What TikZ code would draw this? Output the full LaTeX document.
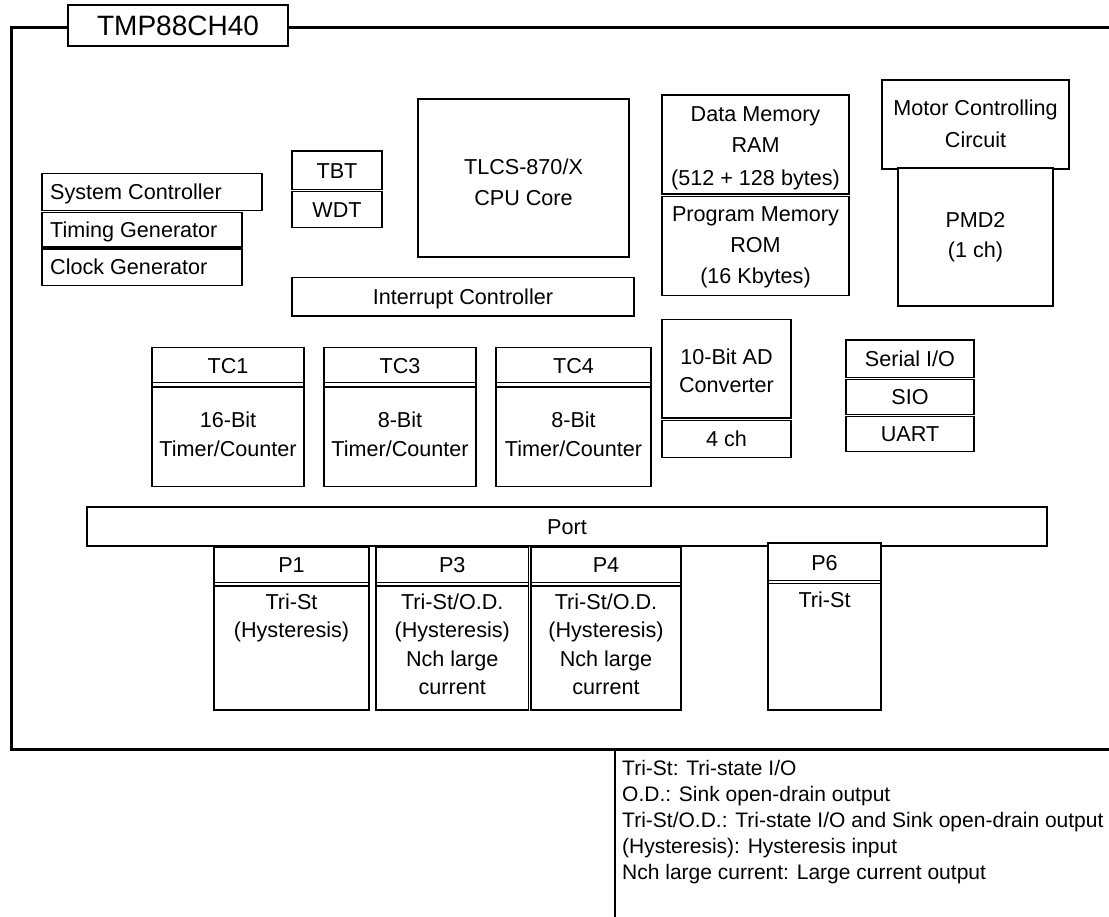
\documentclass[tikz,border=0pt]{standalone}
\usepackage{fontspec}
\setmainfont{Liberation Sans}
\newcommand\bodyfont{\fontsize{21.6}{25}\selectfont}
\newcommand\legfont{\fontsize{21}{25}\selectfont}
\newcommand\ttlfont{\fontsize{28}{32}\selectfont}
\tikzset{
  box/.style={draw, line width=1.3pt, fill=white, inner sep=0pt, outer sep=0pt,
    font=\bodyfont, text height=15.6pt, text depth=0pt},
  ttlbox/.style={box, font=\ttlfont, text height=20.3pt},
  txt/.style={inner sep=0pt, font=\bodyfont, anchor=base, yshift=-7.8pt},
  ltxt/.style={txt, anchor=base west},
  legtxt/.style={inner sep=0pt, font=\legfont, anchor=base west, yshift=-7.6pt},
  frame/.style={line width=3pt, line join=miter},
  thin/.style={line width=1.3pt},
}
\begin{document}
\begin{tikzpicture}[x=1pt,y=-1pt]
\useasboundingbox (0,0) rectangle (1109,917);

% outer frame
\node[ttlbox, minimum width=220pt, minimum height=41pt] (title) at (178,25.5) {TMP88CH40};
\coordinate (ftl) at (11,27.5);
\coordinate (fbl) at (11,749.5);
\coordinate (fbr) at (1109,749.5);
\coordinate (ftr) at (1109,27.5);
\draw[frame] (title.west |- ftl) -- (ftl) -- (fbl) -- (fbr);
\draw[frame] (title.east |- ftl) -- (ftr);

% system controller group
\node[box, minimum width=220pt, minimum height=37pt] (sys) at (152,192) {};
\node[ltxt] (syst) at (50,192) {System Controller};
\node[box, minimum width=200pt, minimum height=34.5pt] (tim) at (142,229.75) {};
\node[ltxt] (timt) at (50,229.5) {Timing Generator};
\node[box, minimum width=200pt, minimum height=36.5pt] (clk) at (142,267.25) {};
\node[ltxt] (clkt) at (50,266.5) {Clock Generator};

% TBT / WDT
\node[box, minimum width=90pt, minimum height=38.5pt] (tbt) at (337,170.25) {TBT};
\node[box, minimum width=90pt, minimum height=36pt] (wdt) at (337,209.5) {WDT};

% CPU core
\node[box, minimum width=211pt, minimum height=158pt] (cpu) at (523.5,178) {};
\node[txt] (cpu1) at (523.5,167) {TLCS-870/X};
\node[txt] (cpu2) at (523.5,198) {CPU Core};

% interrupt controller
\node[box, minimum width=342pt, minimum height=38.5pt] (intc) at (463,296.75) {Interrupt Controller};

% memories
\node[box, minimum width=187pt, minimum height=99pt] (ram) at (755.5,144.5) {};
\node[txt] (ram1) at (755.5,113.3) {Data Memory};
\node[txt] (ram2) at (755.5,145) {RAM};
\node[txt] (ram3) at (755.5,178) {(512 + 128 bytes)};
\node[box, minimum width=187pt, minimum height=99pt] (rom) at (755.5,246) {};
\node[txt] (rom1) at (755.5,213.3) {Program Memory};
\node[txt] (rom2) at (755.5,245) {ROM};
\node[txt] (rom3) at (755.5,276) {(16 Kbytes)};

% motor / PMD
\node[box, minimum width=187pt, minimum height=89pt] (mot) at (975.5,124.5) {};
\node[txt] (mot1) at (975.5,107.3) {Motor Controlling};
\node[txt] (mot2) at (975.5,139.3) {Circuit};
\node[box, minimum width=155pt, minimum height=138pt] (pmd) at (975.5,237) {};
\node[txt] (pmd1) at (975.5,220) {PMD2};
\node[txt] (pmd2) at (975.5,250) {(1 ch)};

% AD converter
\node[box, minimum width=129pt, minimum height=98.5pt] (ad) at (726.5,368.75) {};
\node[txt] (ad1) at (726.5,356.7) {10-Bit AD};
\node[txt] (ad2) at (726.5,385) {Converter};
\node[box, minimum width=129pt, minimum height=37pt] (adch) at (726.5,439) {4 ch};

% serial
\node[box, minimum width=128pt, minimum height=37.5pt] (ser) at (910,358.75) {Serial I/O};
\node[box, minimum width=128pt, minimum height=35pt] (sio) at (910,397) {SIO};
\node[box, minimum width=128pt, minimum height=35pt] (uart) at (910,434) {UART};

% timer counters
\node[box, minimum width=152pt, minimum height=139pt] (tc1) at (228,417) {};
\node[box, minimum width=152pt, minimum height=139pt] (tc3) at (400,417) {};
\node[box, minimum width=155pt, minimum height=139pt] (tc4) at (573.5,417) {};
\foreach \n in {tc1,tc3,tc4}{
  \draw[thin] (\n.west |- 0,382.5) -- (\n.east |- 0,382.5);
  \draw[thin] (\n.west |- 0,387) -- (\n.east |- 0,387);
}
\node[txt] (tc1h) at (228,365.5) {TC1};
\node[txt] (tc1a) at (228,420) {16-Bit};
\node[txt] (tc1b) at (228,448.3) {Timer/Counter};
\node[txt] (tc3h) at (400,365.5) {TC3};
\node[txt] (tc3a) at (400,420) {8-Bit};
\node[txt] (tc3b) at (400,448.3) {Timer/Counter};
\node[txt] (tc4h) at (573.5,365.5) {TC4};
\node[txt] (tc4a) at (573.5,420) {8-Bit};
\node[txt] (tc4b) at (573.5,448.3) {Timer/Counter};

% port
\node[box, minimum width=960pt, minimum height=39pt] (port) at (567,526.5) {Port};

\node[box, minimum width=155pt, minimum height=162.5pt] (p1) at (291.5,628.75) {};
\node[box, minimum width=152.5pt, minimum height=162.5pt] (p3) at (452.25,628.75) {};
\node[box, minimum width=150pt, minimum height=162.5pt] (p4) at (606,628.75) {};
\foreach \n in {p1,p3,p4}{
  \draw[thin] (\n.west |- 0,582.5) -- (\n.east |- 0,582.5);
  \draw[thin] (\n.west |- 0,586) -- (\n.east |- 0,586);
}
\node[box, minimum width=113pt, minimum height=167pt] (p6) at (824.5,626.5) {};
\draw[thin] (p6.west |- 0,580.5) -- (p6.east |- 0,580.5);
\draw[thin] (p6.west |- 0,583.5) -- (p6.east |- 0,583.5);

\node[txt] (p1h) at (291.5,565) {P1};
\node[txt] (p1a) at (291.5,601.7) {Tri-St};
\node[txt] (p1b) at (291.5,630) {(Hysteresis)};
\node[txt] (p3h) at (452.25,565) {P3};
\node[txt] (p3a) at (452.25,601.7) {Tri-St/O.D.};
\node[txt] (p3b) at (452.25,630) {(Hysteresis)};
\node[txt] (p3c) at (452.25,658.3) {Nch large};
\node[txt] (p3d) at (452.25,686.7) {current};
\node[txt] (p4h) at (606,565) {P4};
\node[txt] (p4a) at (606,601.7) {Tri-St/O.D.};
\node[txt] (p4b) at (606,630) {(Hysteresis)};
\node[txt] (p4c) at (606,658.3) {Nch large};
\node[txt] (p4d) at (606,686.7) {current};
\node[txt] (p6h) at (824.5,563) {P6};
\node[txt] (p6a) at (824.5,600) {Tri-St};

% legend
\coordinate (lt) at (615,749.5);
\coordinate (lb) at (615,917);
\draw[thin] (lt) -- (lb);
\node[legtxt] (lg1) at (622,768) {Tri-St: Tri-state I/O};
\node[legtxt] (lg2) at (622,794) {O.D.: Sink open-drain output};
\node[legtxt] (lg3) at (622,820) {Tri-St/O.D.: Tri-state I/O and Sink open-drain output};
\node[legtxt] (lg4) at (622,846) {(Hysteresis): Hysteresis input};
\node[legtxt] (lg5) at (622,872) {Nch large current: Large current output};
\end{tikzpicture}
\end{document}
